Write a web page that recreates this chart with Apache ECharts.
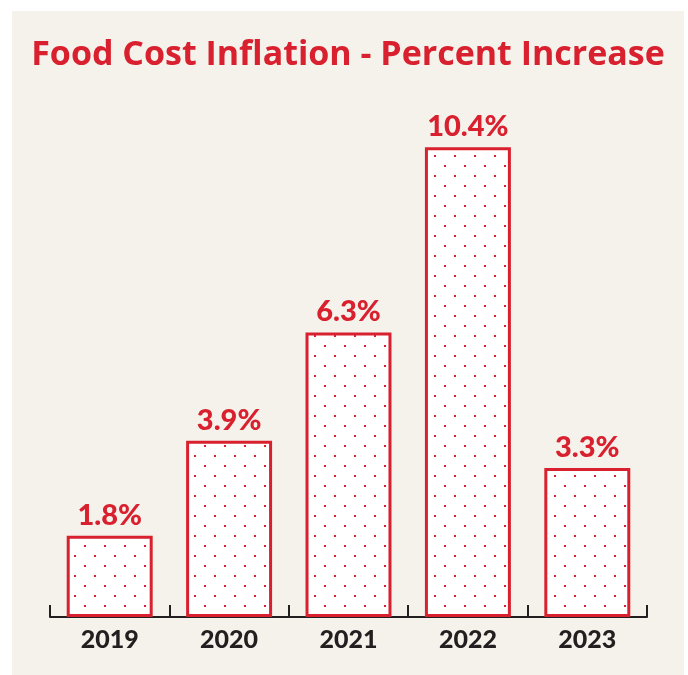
<!DOCTYPE html>
<html>
<head>
<meta charset="utf-8">
<script src="https://cdn.jsdelivr.net/npm/echarts@6/dist/echarts.min.js"></script>
<style>
  html, body { margin: 0; padding: 0; background: #ffffff; }
  #chart { position: absolute; left: 12px; top: 11px; width: 672px; height: 664px; background: #f5f2eb; }
</style>
</head>
<body>
<div id="chart"></div>
<script>
const years = ["2019", "2020", "2021", "2022", "2023"];
const increases = [1.8, 3.9, 6.3, 10.4, 3.3];

const red = "#d8202e";
const ink = "#231f20";

// white fill with a staggered dot pattern
const dots = document.createElement("canvas");
dots.width = 20;
dots.height = 20;
const ctx = dots.getContext("2d");
ctx.fillStyle = "#ffffff";
ctx.fillRect(0, 0, 20, 20);
ctx.fillStyle = red;
ctx.fillRect(2, 4, 2, 2);
ctx.fillRect(12, 14, 2, 2);

const chart = echarts.init(document.getElementById("chart"));

chart.setOption({
  animation: false,
  title: {
    text: "Food Cost Inflation - Percent Increase",
    left: "center",
    top: 22,
    textStyle: { color: red, fontFamily: "Open Sans", fontWeight: "bold", fontSize: 34 },
  },
  grid: { left: 38, right: 37, top: 64, bottom: 58 },
  xAxis: {
    type: "category",
    data: years,
    axisLine: { show: true, lineStyle: { color: ink, width: 2 } },
    axisTick: { show: true, inside: true, length: 12, lineStyle: { color: ink, width: 2 } },
    axisLabel: { color: ink, fontFamily: "Lato", fontWeight: 900, fontSize: 25, margin: 10 },
  },
  yAxis: {
    type: "value",
    min: 0,
    max: 12,
    show: false,
    splitLine: { show: false },
  },
  series: [
    {
      type: "bar",
      data: increases,
      barWidth: "72%",
      itemStyle: {
        color: { image: dots, repeat: "repeat" },
        borderColor: red,
        borderWidth: 3,
      },
      label: {
        show: true,
        position: "top",
        distance: 6,
        formatter: (p) => p.value.toFixed(1) + "%",
        color: red,
        fontFamily: "Lato",
        fontWeight: 900,
        fontSize: 29,
      },
    },
  ],
});
</script>
</body>
</html>
